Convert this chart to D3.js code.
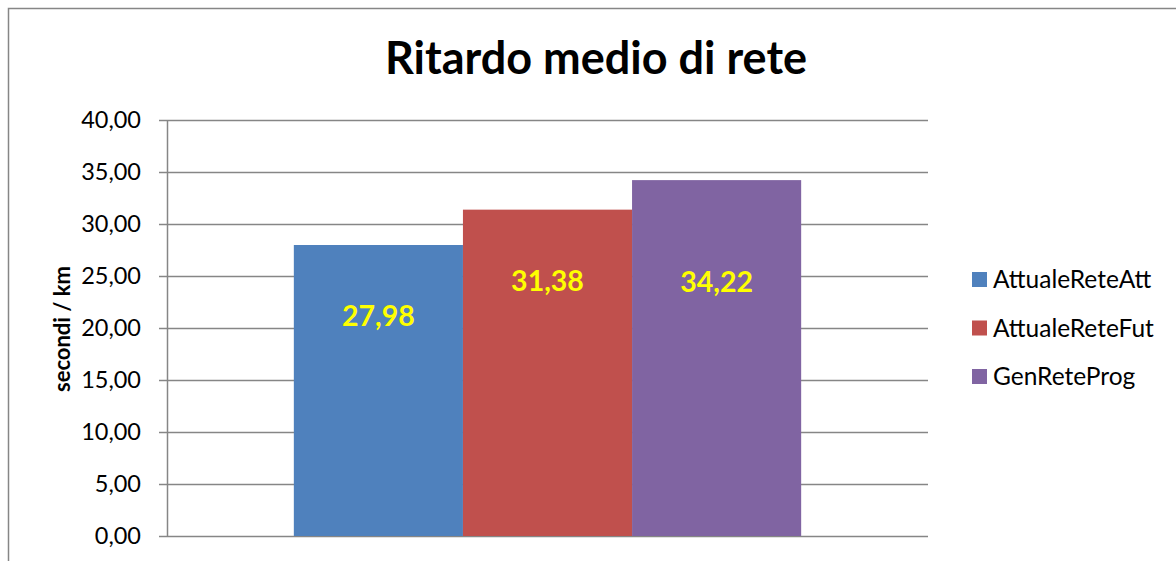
<!DOCTYPE html>
<html>
<head>
<meta charset="utf-8">
<script src="https://cdnjs.cloudflare.com/ajax/libs/d3/7.8.5/d3.min.js"></script>
<style>
  html, body { margin: 0; padding: 0; background: #fff; }
  svg { display: block; }
  text { font-family: Lato, "Open Sans", sans-serif; }
</style>
</head>
<body>
<svg id="chart" width="1176" height="561"></svg>
<script>
const title = "Ritardo medio di rete";
const yTitle = "secondi / km";
const category = [""];
const series = ["AttualeReteAtt", "AttualeReteFut", "GenReteProg"];
const values = [27.98, 31.38, 34.22];
const colors = ["#4F81BD", "#C0504D", "#8064A2"];
const yTicks = [0, 5, 10, 15, 20, 25, 30, 35, 40];

const svg = d3.select("#chart");
const W = 1176, H = 561;
const plot = { left: 167, right: 928, top: 120, bottom: 536 };
const gridColor = "#868686";

// outer border (right/bottom edges fall outside the view)
svg.append("rect")
  .attr("x", 8.5).attr("y", 8.5)
  .attr("width", W + 10).attr("height", H + 10)
  .attr("fill", "none").attr("stroke", gridColor).attr("stroke-width", 1.5);

const y = d3.scaleLinear().domain([0, 40]).range([plot.bottom, plot.top]);
const x0 = d3.scaleBand().domain(category).range([plot.left, plot.right])
  .paddingInner(0).paddingOuter(0.25);
const x1 = d3.scaleBand().domain(series).range([0, x0.bandwidth()]).padding(0);

const fmt = v => d3.format(".2f")(v).replace(".", ",");

// gridlines
svg.append("g").selectAll("line").data(yTicks).join("line")
  .attr("x1", plot.left - 8).attr("x2", plot.right)
  .attr("y1", d => y(d) + 0.5).attr("y2", d => y(d) + 0.5)
  .attr("stroke", gridColor).attr("stroke-width", 1.5);

// y axis
const yAxis = d3.axisLeft(y).tickValues(yTicks).tickFormat(fmt).tickSize(0).tickPadding(26);
const gy = svg.append("g").attr("transform", `translate(${plot.left},0)`).call(yAxis);
gy.select(".domain").attr("stroke", gridColor).attr("stroke-width", 1.5);
gy.selectAll("text").attr("font-size", 23.5).attr("fill", "#000").attr("font-family", "Lato");

// bars
const g = svg.append("g").attr("transform", `translate(${x0(category[0])},0)`);
g.selectAll("rect").data(values).join("rect")
  .attr("x", (d, i) => x1(series[i]))
  .attr("width", x1.bandwidth())
  .attr("y", d => y(d))
  .attr("height", d => y(0) - y(d))
  .attr("fill", (d, i) => colors[i]);

// data labels
const labelDy = [71, 71, 102];
g.selectAll("text.lbl").data(values).join("text").attr("class", "lbl")
  .attr("x", (d, i) => x1(series[i]) + x1.bandwidth() / 2)
  .attr("y", (d, i) => y(d) + labelDy[i])
  .attr("dy", "0.35em")
  .attr("text-anchor", "middle")
  .attr("font-size", 28.5).attr("font-weight", "bold").attr("fill", "#FFFF00")
  .text(fmt);

// title
svg.append("text").attr("x", 596).attr("y", 74).attr("text-anchor", "middle")
  .attr("font-size", 45).attr("font-weight", "bold").attr("fill", "#000").text(title);

// y title
svg.append("text").attr("transform", "translate(70,329) rotate(-90)")
  .attr("text-anchor", "middle").attr("font-size", 22).attr("font-weight", "bold")
  .attr("fill", "#000").text(yTitle);

// legend
const lg = svg.append("g").attr("transform", "translate(972,272)");
const items = lg.selectAll("g").data(series).join("g")
  .attr("transform", (d, i) => `translate(0,${i * 48.5})`);
items.append("rect").attr("width", 15).attr("height", 15).attr("fill", (d, i) => colors[i]);
items.append("text").attr("x", 21).attr("y", 16).attr("font-size", 24.5).attr("fill", "#000").text(d => d);
</script>
</body>
</html>
